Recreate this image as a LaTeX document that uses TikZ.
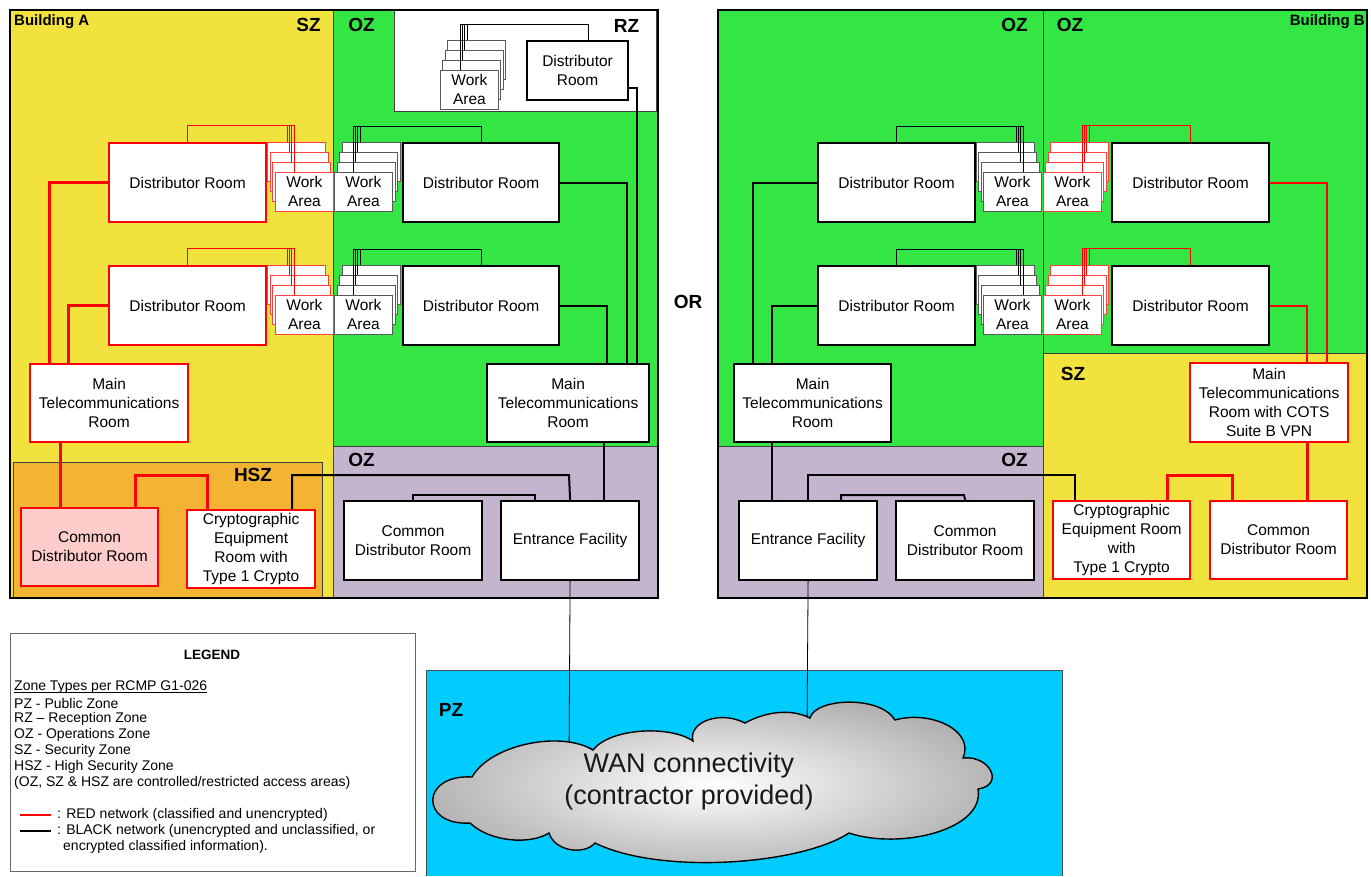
\documentclass[tikz,border=0pt]{standalone}
\usepackage{fontspec}
\setmainfont{Liberation Sans}
\definecolor{zy}{HTML}{F1E23D}
\definecolor{zg}{HTML}{33E643}
\definecolor{zp}{HTML}{C3B5CE}
\definecolor{zo}{HTML}{F2B432}
\definecolor{zpink}{HTML}{FFCCCC}
\definecolor{zb}{HTML}{00CCFF}
\newcommand\wstack[5]{%
 \node[#1, anchor=north west] (#2a) at (#3,#4) {};
 \node[#1, anchor=north west] (#2b) at ({#3+#5},{#4+10}) {};
 \node[#1, anchor=north west] (#2c) at ({#3+2*#5},{#4+20}) {};
 \node[#1, anchor=north west] (#2d) at ({#3+3*#5},{#4+30}) {Work\\Area};
}
\newcommand\wlinks[6]{%
 \pgfmathsetmacro\wxa{#5+6.9*#6}\pgfmathsetmacro\wxb{#5+4.6*#6}\pgfmathsetmacro\wxc{#5+2.3*#6}%
 \draw[#1] (#2) |- (\wxa,#4) -- (#3a.north -| \wxa,0);
 \draw[#1] (#2) |- (\wxb,#4) -- (#3b.north -| \wxb,0);
 \draw[#1] (#2) |- (\wxc,#4) -- (#3c.north -| \wxc,0);
 \draw[#1] (#2) |- (#5,#4) -- (#3d.north -| #5,0);
}
\begin{document}
\begin{tikzpicture}[x=1pt,y=-1pt,
 zline/.style={draw=black!75, line width=0.7pt},
 bline/.style={draw=black, line width=1.8pt},
 zlbl/.style={font=\bfseries\fontsize{19}{22}\selectfont, inner sep=0pt},
 blbl/.style={font=\bfseries\fontsize{15}{18}\selectfont, inner sep=0pt},
 room/.style={fill=white, line width=2.2pt, align=center, inner sep=0pt, anchor=north west, font=\fontsize{15.5}{19}\selectfont},
 rroom/.style={room, draw=red},
 broom/.style={room, draw=black},
 sz/.style 2 args={minimum width=#1pt, minimum height=#2pt},
 wabox/.style={fill=white, line width=0.8pt, minimum width=58pt, minimum height=39pt, inner sep=0pt, align=center, font=\fontsize{15.5}{19}\selectfont},
 wred/.style={wabox, draw=red!75},
 wblk/.style={wabox, draw=black!65},
 rlink/.style={draw=red, line width=0.8pt},
 klink/.style={draw=black, line width=0.8pt},
 rthick/.style={draw=red, line width=3pt},
 rmid/.style={draw=red, line width=2pt},
 kthick/.style={draw=black, line width=2pt},
 kthin/.style={draw=black, line width=0.8pt},
 leg/.style={anchor=west, inner sep=0pt, font=\fontsize{14}{16}\selectfont},
]
\useasboundingbox (0,0) rectangle (1371,876);
% ---------- Building A zones
\fill[zy] (10,10) rectangle (333,598);
\fill[zg] (333,10) rectangle (658,446);
\fill[zp] (333,446) rectangle (658,598);
\draw[zline] (333,10) -- (333,598);
\draw[zline] (333,446) -- (658,446);
\draw[zline, fill=white] (394,10) rectangle (656,111);
\draw[zline, fill=zo] (13,462) rectangle (322,597);
\draw[bline] (10,10) rectangle (658,598);
% ---------- Building B zones
\fill[zg] (718,10) rectangle (1367,446);
\fill[zp] (718,446) rectangle (1043,598);
\fill[zy] (1043,353) rectangle (1367,598);
\draw[zline] (1043,10) -- (1043,598);
\draw[zline] (718,446) -- (1043,446);
\draw[zline] (1043,353) -- (1367,353);
\draw[bline] (718,10) rectangle (1367,598);
% ---------- PZ
\fill[zb] (426,670) rectangle (1062,876);
\draw[black!70, line width=0.8pt] (426,876) -- (426,670) -- (1062,670) -- (1062,876);
% ---------- zone labels
\node[blbl, anchor=west] (lblA) at (14,22) {Building A};
\node[zlbl] (lSZa) at (308.5,25) {SZ};
\node[zlbl] (lOZa) at (361.5,25) {OZ};
\node[zlbl] (lRZ) at (626.5,26) {RZ};
\node[zlbl] (lHSZ) at (253,475) {HSZ};
\node[zlbl] (lOZa2) at (361.5,460) {OZ};
\node[zlbl] (lOZb1) at (1014.5,25) {OZ};
\node[zlbl] (lOZb2) at (1070,25) {OZ};
\node[blbl, anchor=east] (lblB) at (1365,22) {Building B};
\node[zlbl] (lSZb) at (1073,374) {SZ};
\node[zlbl] (lOZb3) at (1014.5,460) {OZ};
\node[zlbl] (lOR) at (688,302) {OR};
\node[zlbl] (lPZ) at (451,710) {PZ};
% ---------- legend
\draw[black!60, line width=0.8pt] (10,633) rectangle (415,871);
\node[font=\bfseries\fontsize{13.5}{16}\selectfont] (legT) at (212,655) {LEGEND};
\node[leg] (lg1) at (14,687) {Zone Types per RCMP G1-026};
\draw[black, line width=0.6pt] ([yshift=-1.5pt]lg1.base west) -- ([yshift=-1.5pt]lg1.base east);
\node[leg] (lg2) at (14,703) {PZ - Public Zone};
\node[leg] (lg3) at (14,719) {RZ – Reception Zone};
\node[leg] (lg4) at (14,735) {OZ - Operations Zone};
\node[leg] (lg5) at (14,751) {SZ - Security Zone};
\node[leg] (lg6) at (14,767) {HSZ - High Security Zone};
\node[leg] (lg7) at (14,783) {(OZ, SZ \& HSZ are controlled/restricted access areas)};
\coordinate (lr1) at (20,815); \coordinate (lr2) at (51,815);
\draw[red, line width=2pt] (lr1) -- (lr2);
\node[leg] (lg8) at (57,815) {: RED network (classified and unencrypted)};
\coordinate (lk1) at (20,831); \coordinate (lk2) at (51,831);
\draw[black, line width=2pt] (lk1) -- (lk2);
\node[leg] (lg9) at (57,831) {: BLACK network (unencrypted and unclassified, or};
\node[leg] (lg10) at (63,847) {encrypted classified information).};
% ---------- work area stacks
\wstack{wred}{waA1}{267}{142}{2.67}
\wstack{wblk}{waA3}{342}{142}{-2.67}
\wstack{wred}{waA2}{267}{265}{2.67}
\wstack{wblk}{waA4}{342}{265}{-2.67}
\wstack{wblk}{waRZ}{447}{40}{-2.33}
\wstack{wblk}{waB1}{976}{142}{2.33}
\wstack{wred}{waB3}{1050}{142}{-2.33}
\wstack{wblk}{waB2}{976}{265}{2.33}
\wstack{wred}{waB4}{1050}{265}{-2.33}
% ---------- rooms A
\node[rroom, sz={157}{79}] (drA1) at (108,142) {Distributor Room};
\node[rroom, sz={157}{79}] (drA2) at (108,265) {Distributor Room};
\node[rroom, sz={158}{78}] (mtA) at (29,363) {Main\\Telecommunications\\Room};
\node[rroom, sz={137}{78}, fill=zpink] (cdrA) at (20,507) {Common\\Distributor Room};
\node[rroom, sz={128}{78}] (crA) at (186,509) {Cryptographic\\Equipment\\Room with\\Type 1 Crypto};
\node[broom, sz={156}{79}] (drA3) at (402,142) {Distributor Room};
\node[broom, sz={156}{79}] (drA4) at (402,265) {Distributor Room};
\node[broom, sz={162}{78}] (mtA2) at (486,363) {Main\\Telecommunications\\Room};
\node[broom, sz={138}{79}] (cdrA2) at (343,500) {Common\\Distributor Room};
\node[broom, sz={138}{79}] (efA) at (500,500) {Entrance Facility};
\node[broom, sz={101}{59}] (drRZ) at (526,40) {Distributor\\Room};
% ---------- rooms B
\node[broom, sz={157}{79}] (drB1) at (817,142) {Distributor Room};
\node[broom, sz={157}{79}] (drB2) at (817,265) {Distributor Room};
\node[broom, sz={157}{79}] (drB3) at (1111,142) {Distributor Room};
\node[broom, sz={157}{79}] (drB4) at (1111,265) {Distributor Room};
\node[broom, sz={157}{78}] (mtB) at (733,363) {Main\\Telecommunications\\Room};
\node[broom, sz={138}{79}] (efB) at (738,500) {Entrance Facility};
\node[broom, sz={138}{79}] (cdrB) at (895,500) {Common\\Distributor Room};
\node[rroom, sz={158}{79}] (mtB2) at (1189,362) {Main\\Telecommunications\\Room with COTS\\Suite B VPN};
\node[rroom, sz={137}{78}] (crB) at (1052,500) {Cryptographic\\Equipment Room\\with\\Type 1 Crypto};
\node[rroom, sz={137}{78}] (cdrB2) at (1209,500) {Common\\Distributor Room};
% ---------- work area links
\wlinks{rlink}{drA1.north}{waA1}{125}{294}{-1}
\wlinks{klink}{drA3.north}{waA3}{126}{353}{1}
\wlinks{rlink}{drA2.north}{waA2}{248}{294}{-1}
\wlinks{klink}{drA4.north}{waA4}{249}{353}{1}
\wlinks{klink}{[xshift=10.5pt]drRZ.north}{waRZ}{24}{460}{1}
\wlinks{klink}{drB1.north}{waB1}{126}{1023}{-1}
\wlinks{klink}{drB2.north}{waB2}{249}{1023}{-1}
\wlinks{rlink}{drB3.north}{waB3}{125}{1082}{1}
\wlinks{rlink}{drB4.north}{waB4}{248}{1082}{1}
% ---------- connectors A
\draw[rthick] (drA1.west) -| (mtA.north -| 49,0);
\draw[rthick] (drA2.west) -| (mtA.north -| 68,0);
\draw[rthick] (mtA.south -| 60,0) -- (cdrA.north -| 60,0);
\draw[rthick] (cdrA.north -| 135,0) |- (207,475) -- (crA.north -| 207,0);
\draw[kthick] (crA.north -| 292,0) |- (569,475) -- (efA.north);
\draw[kthick] (cdrA2.north) |- (535,495) -- (efA.north -| 535,0);
\draw[kthick] (mtA2.south -| 604,0) -- (efA.north -| 604,0);
\draw[kthick] (drA3.east) -| (mtA2.north -| 627,0);
\draw[kthick] (drA4.east) -| (mtA2.north -| 607,0);
\draw[kthick] ([yshift=-17.5pt]drRZ.east) -| (mtA2.north -| 637,0);
% ---------- connectors B
\draw[kthick] (drB1.west) -| (mtB.north -| 753,0);
\draw[kthick] (drB2.west) -| (mtB.north -| 772,0);
\draw[kthick] (mtB.south -| 772,0) -- (efB.north -| 772,0);
\draw[kthick] (efB.north) |- (1075,475) -- (crB.north -| 1075,0);
\draw[kthick] (efB.north -| 841,0) |- (964,495) -- (cdrB.north);
\draw[rmid] (drB3.east) -| (mtB2.north -| 1327,0);
\draw[rmid] (drB4.east) -| (mtB2.north -| 1307,0);
\draw[rthick] (mtB2.south -| 1307,0) -- (cdrB2.north -| 1307,0);
\draw[rthick] (crB.north -| 1167,0) |- (1232,475) -- (cdrB2.north -| 1232,0);
% ---------- WAN links and cloud
\coordinate (wanA) at (569,760);
\coordinate (wanB) at (807,730);
\draw[kthin] (efA.south) -- (wanA);
\draw[kthin] (efB.south) -- (wanB);
\shadedraw[draw=black, line width=1.4pt, inner color=white, outer color=black!30]
 (472,777) .. controls (490,745) and (560,730) .. (593,750)
 .. controls (610,728) and (670,725) .. (693,741)
 .. controls (688,722) and (720,710) .. (745,723)
 .. controls (765,712) and (790,708) .. (810,718)
 .. controls (815,698) and (880,695) .. (895,720)
 .. controls (930,710) and (975,730) .. (963,758)
 .. controls (990,755) and (1005,785) .. (978,789)
 .. controls (985,830) and (900,850) .. (849,833)
 .. controls (800,865) and (660,875) .. (595,843)
 .. controls (585,855) and (555,852) .. (549,833)
 .. controls (530,845) and (490,842) .. (470,823)
 .. controls (420,826) and (420,774) .. (472,777) -- cycle;
\node[align=center, font=\fontsize{27}{32}\selectfont, text=black!90] (wan) at (689,782) {WAN connectivity\\(contractor provided)};
\end{tikzpicture}
\end{document}
